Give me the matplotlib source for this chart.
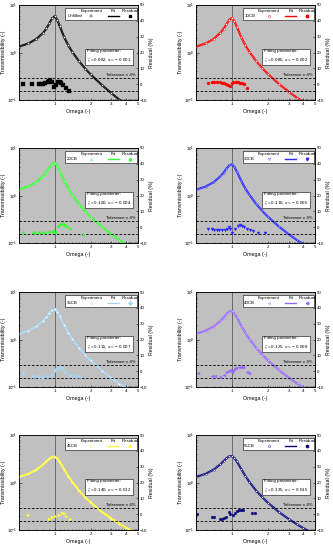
import matplotlib
matplotlib.use("Agg")
import matplotlib.pyplot as plt
import matplotlib.patches as mpatches
import numpy as np
from matplotlib.ticker import FixedLocator, NullFormatter

plt.rcParams['font.family'] = ['Liberation Sans', 'DejaVu Sans']
plt.rcParams['mathtext.fontset'] = 'stix'

# frequenzverhaeltnis (omega) fuer experiment / fit
omega = [0.5, 0.6, 0.7, 0.8, 0.85, 0.9, 0.95, 1.0, 1.05, 1.1, 1.2, 1.3, 1.4,
         1.6, 1.8, 2.0, 2.5, 3.0, 3.5, 4.0, 4.5, 5.0]

t_unfilled = [1.33, 1.55, 1.92, 2.60, 3.20, 4.10, 5.20, 5.80, 4.85, 3.60, 2.10, 1.41, 1.04,
              0.654, 0.461, 0.349, 0.205, 0.139, 0.102, 0.080, 0.065, 0.054]
t_10cb = [1.33, 1.55, 1.92, 2.60, 3.15, 3.95, 4.90, 5.30, 4.55, 3.45, 2.08, 1.41, 1.04,
          0.66, 0.47, 0.358, 0.215, 0.150, 0.113, 0.090, 0.074, 0.062]
t_20cb = [1.33, 1.55, 1.91, 2.56, 3.10, 3.80, 4.55, 4.90, 4.25, 3.30, 2.04, 1.40, 1.04,
          0.66, 0.47, 0.358, 0.216, 0.153, 0.116, 0.093, 0.077, 0.065]
t_30cb = [1.33, 1.54, 1.90, 2.53, 3.02, 3.68, 4.30, 4.55, 3.98, 3.17, 2.01, 1.39, 1.04,
          0.664, 0.475, 0.362, 0.219, 0.154, 0.117, 0.094, 0.078, 0.066]
t_35cb = [1.33, 1.54, 1.89, 2.51, 2.99, 3.60, 4.18, 4.35, 3.85, 3.10, 1.99, 1.39, 1.04,
          0.666, 0.477, 0.365, 0.221, 0.156, 0.118, 0.095, 0.079, 0.067]
t_40cb = [1.32, 1.54, 1.88, 2.47, 2.91, 3.44, 3.88, 3.95, 3.56, 2.94, 1.95, 1.38, 1.04,
          0.67, 0.482, 0.37, 0.226, 0.159, 0.121, 0.097, 0.081, 0.069]
t_45cb = [1.32, 1.53, 1.86, 2.41, 2.79, 3.20, 3.50, 3.52, 3.22, 2.74, 1.89, 1.36, 1.04,
          0.68, 0.495, 0.385, 0.240, 0.175, 0.137, 0.112, 0.095, 0.082]
t_55cb = [1.32, 1.53, 1.87, 2.43, 2.82, 3.25, 3.58, 3.60, 3.28, 2.78, 1.91, 1.37, 1.04,
          0.678, 0.492, 0.382, 0.237, 0.172, 0.134, 0.110, 0.093, 0.080]

# residuen (%)
w_res_unfilled = [0.54, 0.64, 0.74, 0.77, 0.79, 0.83, 0.87, 0.90, 0.92, 0.94, 0.99, 1.02,
                  1.07, 1.10, 1.13, 1.17, 1.24, 1.32]
r_unfilled = [0.0, 0.0, 0.0, 0.1, 0.3, 0.7, 1.2, 1.8, 2.6, 1.2, -2.0, -0.7,
              1.2, 1.6, 0.5, -0.7, -2.6, -4.1]
w_res_10cb = [0.63, 0.68, 0.71, 0.75, 0.79, 0.82, 0.855, 0.89, 0.925, 0.965, 1.0, 1.03,
              1.08, 1.12, 1.16, 1.21, 1.26, 1.33]
r_10cb = [0.5, 1.5, 1.7, 1.5, 1.5, 0.9, 0.5, 0.1, -0.6, -1.2, 0.5, 1.5,
          1.1, 1.5, 0.9, 0.5, 0.1, -2.2]
w_res_20cb = [0.54, 0.66, 0.68, 0.73, 0.78, 0.83, 0.89, 0.94, 0.98, 1.02, 1.07, 1.11,
              1.15, 1.19, 1.22, 1.26, 1.35, 1.73]
r_20cb = [-3.0, -3.0, -3.3, -3.3, -3.0, -2.8, -2.6, -2.4, -2.2, -3.0, 0.5, 2.0,
          2.4, 2.0, 1.6, 0.9, -0.5, -4.3]
w_res_30cb = [0.63, 0.68, 0.71, 0.745, 0.78, 0.82, 0.87, 0.91, 0.94, 0.97, 1.01, 1.06,
              1.12, 1.17, 1.22, 1.27, 1.33, 1.42, 1.51, 1.67, 1.88]
r_30cb = [-0.9, -1.1, -1.6, -2.0, -2.0, -1.8, -1.6, -1.1, -0.1, -0.9, -3.7, -1.1,
          0.5, 1.2, 0.5, -0.1, -0.9, -2.0, -2.6, -3.9, -3.9]
w_res_35cb = [0.54, 0.66, 0.72, 0.78, 0.86, 0.94, 1.01, 1.06, 1.10, 1.15, 1.22, 1.35,
              1.49, 1.60]
r_35cb = [-1.2, -2.9, -3.1, -3.3, -2.9, -1.6, 0.9, 1.9, 3.0, 1.9, -0.2, -2.3,
          -2.9, -2.9]
w_res_40cb = [0.52, 0.68, 0.72, 0.79, 0.85, 0.89, 0.92, 0.96, 1.0, 1.03, 1.06, 1.09,
              1.15, 1.19, 1.25, 1.33, 1.39]
r_40cb = [-1.2, -2.9, -2.9, -3.3, -2.3, -0.2, 0.5, 0.9, -0.2, 0.9, 1.9, 2.3,
          3.0, 3.0, 2.5, -0.2, -0.8]
w_res_45cb = [0.60, 0.90, 0.94, 1.01, 1.08, 1.15, 1.20, 1.25, 1.35]
r_45cb = [-0.3, -2.8, -1.8, -1.2, -0.3, 0.7, 0.7, -0.75, -2.8]
w_res_55cb = [0.51, 0.68, 0.71, 0.79, 0.83, 0.86, 0.90, 0.94, 0.97, 1.03, 1.06, 1.10,
              1.15, 1.19, 1.25, 1.47, 1.55]
r_55cb = [0.3, -1.4, -1.4, -2.8, -2.8, -2.2, -1.4, 1.3, 0.3, -0.3, 0.7, 1.9,
          2.7, 2.7, 2.7, 0.7, 0.7]

names = ['Unfilled', '10CB', '20CB', '30CB', '35CB', '40CB', '45CB', '55CB']
zeta = ['0.082', '0.085', '0.100', '0.110', '0.115', '0.125', '0.140', '0.135']
alpha = ['0.001', '0.002', '0.004', '0.005', '0.007', '0.008', '0.012', '0.015']
fits = [t_unfilled, t_10cb, t_20cb, t_30cb, t_35cb, t_40cb, t_45cb, t_55cb]
res_w = [w_res_unfilled, w_res_10cb, w_res_20cb, w_res_30cb, w_res_35cb, w_res_40cb,
         w_res_45cb, w_res_55cb]
res_v = [r_unfilled, r_10cb, r_20cb, r_30cb, r_35cb, r_40cb, r_45cb, r_55cb]

farben = ['black', '#ff0000', '#33ff33', '#2828ff', '#a8d4f0', '#9966ff', '#ffff33', '#0a0a80']
marker = ['s', 'o', '^', 'v', 'D', '<', '>', 'h']

fs = 3.2
fig = plt.figure(figsize=(3.33, 5.5), dpi=100)
lefts = [0.057, 0.589]
bottoms = [0.818, 0.558, 0.296, 0.036]

for i in range(8):
    c = farben[i]
    m = marker[i]
    ax = fig.add_axes([lefts[i % 2], bottoms[i // 2], 0.357, 0.173])
    ax.set_facecolor('#c0c0c0')
    ax.set_xscale('log')
    ax.set_yscale('log')
    ax.set_xlim(0.5, 5)
    ax.set_ylim(0.1, 10)
    ax.axvline(1, color='#4a4a4a', lw=0.5, zorder=1)

    # fit-linie + experiment (hohle marker)
    ax.plot(omega, fits[i], color=c, lw=1.5, zorder=3)
    ax.plot(omega, fits[i], color='white', lw=0.35, ls=(0, (1, 1.6)), zorder=4)
    ax.plot(omega, fits[i], ls='none', marker=m, ms=1.4, mfc='white', mec=c, mew=0.3, zorder=4)

    ax.xaxis.set_major_locator(FixedLocator([1, 2, 3, 4, 5]))
    ax.xaxis.set_major_formatter(plt.FixedFormatter(['1', '2', '3', '4', '5']))
    ax.xaxis.set_minor_locator(FixedLocator([v for v in np.arange(0.5, 5.01, 0.1)
                                             if abs(v - round(v)) > 0.01]))
    ax.xaxis.set_minor_formatter(NullFormatter())
    ax.tick_params(which='both', direction='in', labelsize=fs, pad=1.2, width=0.4)
    ax.tick_params(which='major', length=1.8)
    ax.tick_params(which='minor', length=1.0)
    for s in ax.spines.values():
        s.set_linewidth(0.5)
    ax.set_xlabel('Omega (-)', fontsize=3.8, labelpad=2.5)
    ax.set_ylabel('Transmissibility (-)', fontsize=3.8, labelpad=1)

    ax2 = ax.twinx()
    ax2.set_ylim(-10, 50)
    ax2.set_yticks(range(-10, 51, 10))
    ax2.tick_params(which='both', direction='in', labelsize=fs, pad=1.2, width=0.4, length=1.8)
    ax2.set_ylabel('Residual (%)', fontsize=3.8, labelpad=1.5)
    for s in ax2.spines.values():
        s.set_linewidth(0.5)
    ax2.axhline(4, color='black', lw=0.6, ls=(0, (3, 2)))
    ax2.axhline(-4, color='black', lw=0.6, ls=(0, (3, 2)))
    ax2.plot(res_w[i], res_v[i], ls='none', marker=m, ms=2.2, color=c, mec=c, mew=0.2)
    ax2.text(0.985, 4.8, 'Tolerance \u00b1 4%', transform=ax2.get_yaxis_transform(),
             ha='right', va='bottom', fontsize=fs)

    # legende im origin-stil
    ax2.add_patch(mpatches.Rectangle((0.39, 0.84), 0.605, 0.133, transform=ax2.transAxes,
                                     fc='white', ec='black', lw=0.4, zorder=5))
    ax2.text(0.61, 0.94, 'Experiment', transform=ax2.transAxes, ha='center', va='center',
             fontsize=fs, zorder=6)
    ax2.text(0.795, 0.94, 'Fit', transform=ax2.transAxes, ha='center', va='center',
             fontsize=fs, zorder=6)
    ax2.text(0.935, 0.94, 'Residual', transform=ax2.transAxes, ha='center', va='center',
             fontsize=fs, zorder=6)
    ax2.text(0.405, 0.882, names[i], transform=ax2.transAxes, ha='left', va='center',
             fontsize=fs, zorder=6)
    ax2.plot([0.61], [0.882], transform=ax2.transAxes, marker=m, ms=1.6, mfc='white',
             mec=c, mew=0.3, zorder=6, clip_on=False)
    ax2.plot([0.75, 0.84], [0.882, 0.882], transform=ax2.transAxes, color=c, lw=1.0,
             zorder=6, clip_on=False)
    ax2.plot([0.935], [0.882], transform=ax2.transAxes, marker=m, ms=1.8, color=c,
             zorder=6, clip_on=False)

    ax2.text(0.57, 0.54, 'Fitting parameter:\n$\\zeta$ = ' + zeta[i] + ', $\\alpha$ = \u2212 ' + alpha[i],
             transform=ax2.transAxes, ha='left', va='top', fontsize=fs, zorder=6,
             linespacing=1.3,
             bbox=dict(boxstyle='square,pad=0.35', fc='white', ec='black', lw=0.4))

fig.savefig('out.png', dpi=100)
